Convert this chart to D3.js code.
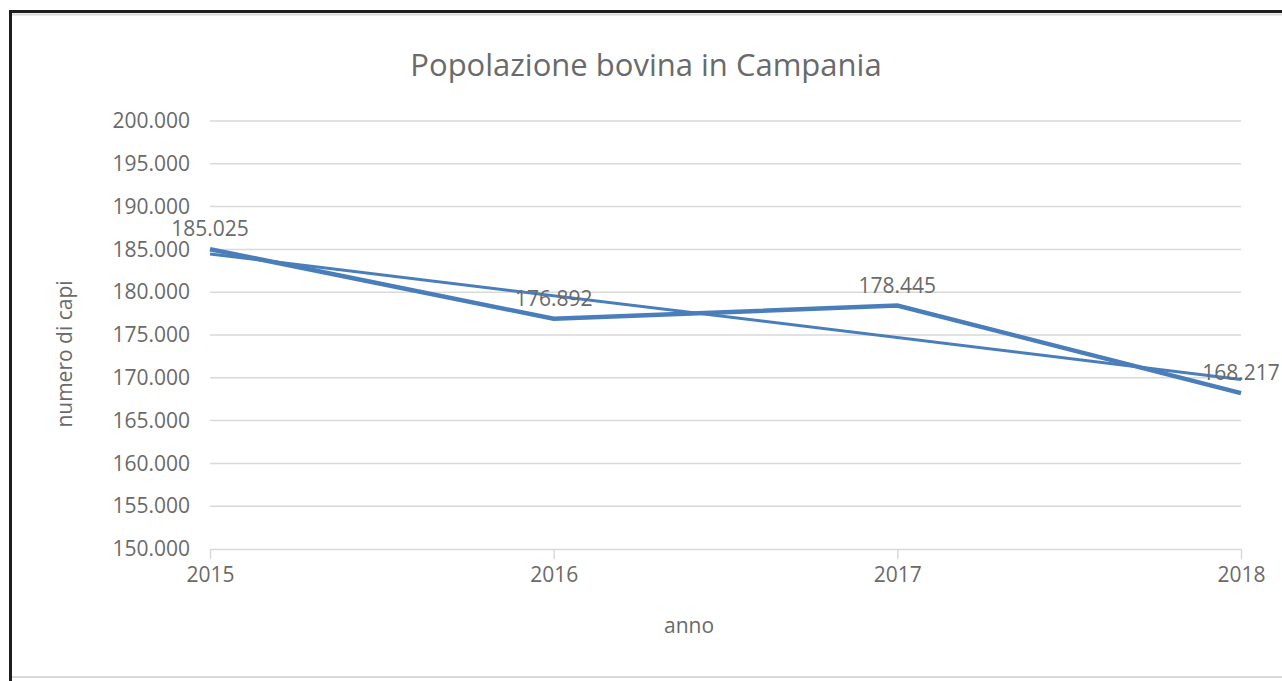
<!DOCTYPE html>
<html>
<head>
<meta charset="utf-8">
<script src="https://cdn.jsdelivr.net/npm/d3@7"></script>
<style>
  html, body { margin: 0; padding: 0; background: #fff; }
  svg { display: block; }
  text { font-family: "Open Sans", "Noto Sans", sans-serif; }
</style>
</head>
<body>
<svg id="chart" width="1282" height="681"></svg>
<script>
const years = [2015, 2016, 2017, 2018];
const capi = [185025, 176892, 178445, 168217];
const trendYears = [2015, 2018];
const trendValues = [184475, 169814];
const yTicks = [150000, 155000, 160000, 165000, 170000, 175000, 180000, 185000, 190000, 195000, 200000];
const titleText = "Popolazione bovina in Campania";
const xTitle = "anno";
const yTitle = "numero di capi";

const svg = d3.select("#chart");
const fmt = d3.formatLocale({decimal: ",", thousands: ".", grouping: [3], currency: ["", "€"]}).format(",d");
const textColor = "#6a6a6a";

// frame
svg.append("rect").attr("x", 0).attr("y", 0).attr("width", 1282).attr("height", 681).attr("fill", "#fff");
svg.append("line").attr("x1", 12).attr("x2", 1282).attr("y1", 14.5).attr("y2", 14.5).attr("stroke", "#d9d9d9").attr("stroke-width", 2);
svg.append("line").attr("x1", 12).attr("x2", 1282).attr("y1", 677).attr("y2", 677).attr("stroke", "#d9d9d9").attr("stroke-width", 2);
svg.append("line").attr("x1", 10.5).attr("x2", 10.5).attr("y1", 10).attr("y2", 681).attr("stroke", "#1e1e1e").attr("stroke-width", 3);
svg.append("line").attr("x1", 9).attr("x2", 1282).attr("y1", 11.5).attr("y2", 11.5).attr("stroke", "#1e1e1e").attr("stroke-width", 3);

const x = d3.scaleLinear().domain([2015, 2018]).range([210, 1241]);
const y = d3.scaleLinear().domain([150000, 200000]).range([549, 121]);

// gridlines
svg.append("g").selectAll("line").data(yTicks.slice(1)).join("line")
  .attr("x1", x(2015)).attr("x2", x(2018))
  .attr("y1", d => y(d)).attr("y2", d => y(d))
  .attr("stroke", "#d9d9d9").attr("stroke-width", 1.5);

// y axis labels
const yAxis = d3.axisLeft(y).tickValues(yTicks).tickFormat(fmt).tickSize(0).tickPadding(20);
const gy = svg.append("g").attr("transform", `translate(${x(2015)},0)`).call(yAxis);
gy.select(".domain").remove();
gy.selectAll("text").attr("fill", textColor).style("font-size", "21px").style("font-family", "'Open Sans', sans-serif");

// x axis
const xAxis = d3.axisBottom(x).tickValues(years).tickFormat(d3.format("d")).tickSizeInner(10).tickSizeOuter(0).tickPadding(8);
const gx = svg.append("g").attr("transform", `translate(0,${y(150000)})`).call(xAxis);
gx.select(".domain").attr("stroke", "#d9d9d9").attr("stroke-width", 1.5);
gx.selectAll(".tick line").attr("stroke", "#d9d9d9").attr("stroke-width", 1.5);
gx.selectAll("text").attr("fill", textColor).style("font-size", "21px").style("font-family", "'Open Sans', sans-serif");

// trend line
const line = d3.line().x(d => x(d[0])).y(d => y(d[1]));
svg.append("path").datum(trendYears.map((yr, i) => [yr, trendValues[i]]))
  .attr("d", line).attr("fill", "none").attr("stroke", "#4a7ebb").attr("stroke-width", 3);

// data line
svg.append("path").datum(years.map((yr, i) => [yr, capi[i]]))
  .attr("d", line).attr("fill", "none").attr("stroke", "#4a7ebb").attr("stroke-width", 4.5)
  .attr("stroke-linejoin", "miter");

// data labels
svg.append("g").selectAll("text").data(years.map((yr, i) => [yr, capi[i]])).join("text")
  .attr("x", d => x(d[0])).attr("y", d => y(d[1]) - 13)
  .attr("text-anchor", "middle").attr("fill", textColor).style("font-size", "21px")
  .text(d => fmt(d[1]));

// title
svg.append("text").attr("x", 646).attr("y", 76).attr("text-anchor", "middle")
  .attr("fill", textColor).style("font-size", "31px").text(titleText);

// axis titles
svg.append("text").attr("x", 689).attr("y", 633).attr("text-anchor", "middle")
  .attr("fill", textColor).style("font-size", "21px").text(xTitle);
svg.append("text").attr("transform", "translate(72,354) rotate(-90)").attr("text-anchor", "middle")
  .attr("fill", textColor).style("font-size", "21px").text(yTitle);
</script>
</body>
</html>
